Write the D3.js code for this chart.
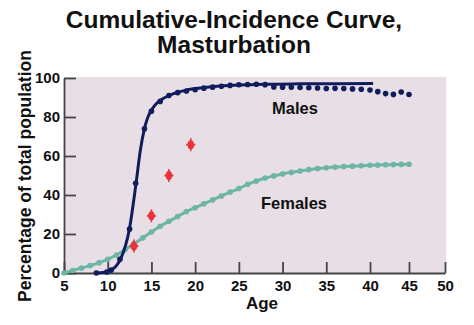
<!DOCTYPE html>
<html><head><meta charset="utf-8">
<script src="https://cdn.jsdelivr.net/npm/d3@7"></script>
<style>
body{margin:0;background:#fff}
svg{display:block}
text{font-family:'Liberation Sans',Arial,Helvetica,sans-serif;font-weight:bold;fill:#111}
</style>
</head><body><svg id="c" width="474" height="325"></svg>
<script>
const titleLines = ["Cumulative-Incidence Curve,", "Masturbation"];
const xLabel = "Age";
const yLabel = "Percentage of total population";
const xTicks = [5, 10, 15, 20, 25, 30, 35, 40, 45, 50];
const yTicks = [0, 20, 40, 60, 80, 100];

// Males: observed points
const maleDotAges = [8.7, 9.9, 10.4, 11.4, 12.5, 13.2, 14.2, 15, 16, 17, 18, 19, 20, 21, 22, 23, 24, 25, 26, 27, 28, 29, 30, 31, 32, 33, 34, 35, 36, 37, 38, 39, 40, 41, 42, 43, 44, 45];
const maleDotVals = [0, 0.5, 1.5, 7, 22.5, 46, 74, 83, 88, 91, 92.5, 93.3, 94, 94.8, 95.3, 95.8, 96.2, 96.5, 96.7, 96.8, 96.6, 95.4, 95.3, 95.2, 95.1, 95, 94.9, 94.6, 94.7, 94.6, 94.4, 94.2, 93.8, 93, 92, 91.6, 92.8, 91.5];
// Males: fitted curve
const maleCurveAges = [8.7, 9.5, 10, 10.5, 11, 11.5, 12, 12.5, 13, 13.3, 13.7, 14.2, 14.6, 15, 15.5, 16, 17, 18, 19, 20, 22, 25, 28, 32, 36, 40.4];
const maleCurveVals = [0, 0.3, 0.8, 1.8, 3.8, 7.5, 13.5, 23, 38, 48, 62, 74, 80, 83.5, 86.5, 88.5, 91, 92.7, 93.8, 94.6, 95.6, 96.4, 96.8, 97, 97.1, 97.2];

// Females
const femaleAges = [5, 6, 7, 8, 9, 10, 11, 12, 13, 14, 15, 16, 17, 18, 19, 20, 21, 22, 23, 24, 25, 26, 27, 28, 29, 30, 31, 32, 33, 34, 35, 36, 37, 38, 39, 40, 41, 42, 43, 44, 45];
const femaleVals = [0, 1.3, 2.5, 3.8, 5.2, 7, 9.2, 12, 15, 18, 21, 24, 26.5, 29, 31.5, 33.5, 35.5, 37.5, 39.5, 41.5, 43.3, 45.5, 47.2, 48.7, 49.8, 50.8, 51.6, 52.3, 53, 53.6, 54, 54.3, 54.6, 54.8, 55, 55.2, 55.4, 55.5, 55.6, 55.7, 55.8];

// Red markers
const redAges = [13, 15, 17, 19.5];
const redVals = [13.8, 29.3, 50, 65.8];

const seriesLabels = ["Males", "Females"];

const svg = d3.select("#c");
const x = d3.scaleLinear().domain([5, 40, 45, 50]).range([64, 370, 409, 445]);
const y = d3.scaleLinear().domain([0, 100]).range([273, 78]);

// plot background
svg.append("rect")
  .attr("x", x(5)).attr("y", y(100) - 1)
  .attr("width", x(50) - x(5) + 1).attr("height", y(0) - y(100) + 1)
  .attr("fill", "#e7dfe5");

// title
svg.append("text").attr("x", 234).attr("y", 28).attr("text-anchor", "middle")
  .style("font-size", "24.5px").text(titleLines[0]);
svg.append("text").attr("x", 234).attr("y", 53).attr("text-anchor", "middle")
  .style("font-size", "24.5px").text(titleLines[1]);

// axes
const axisColor = "#444";
const gy = svg.append("g").attr("transform", `translate(${x(5)},0)`)
  .call(d3.axisLeft(y).tickValues(yTicks).tickSize(-12).tickSizeOuter(0).tickPadding(4));
const gx = svg.append("g").attr("transform", `translate(0,${y(0)})`)
  .call(d3.axisBottom(x).tickValues(xTicks).tickSize(-11).tickSizeOuter(0).tickPadding(7));
[gx, gy].forEach(g => {
  g.select(".domain").attr("stroke", axisColor).attr("stroke-width", 1.8);
  g.selectAll(".tick line").attr("stroke", axisColor).attr("stroke-width", 1.8);
  g.selectAll(".tick text").attr("fill", "#111")
    .style("font-size", "15px").style("font-weight", "bold")
    .style("font-family", "'Liberation Sans',Arial,Helvetica,sans-serif");
});

// axis titles
svg.append("text").attr("x", 262).attr("y", 309).attr("text-anchor", "middle")
  .style("font-size", "17px").text(xLabel);
svg.append("text").attr("transform", `translate(31,176) rotate(-90)`)
  .attr("text-anchor", "middle").style("font-size", "17.5px").text(yLabel);

const line = d3.line().curve(d3.curveMonotoneX);

// Females
const femColor = "#6db5a4";
svg.append("path")
  .attr("d", line(femaleAges.map((a, i) => [x(a), y(femaleVals[i])])))
  .attr("fill", "none").attr("stroke", femColor).attr("stroke-width", 3);
svg.append("g").selectAll("circle").data(femaleAges).join("circle")
  .attr("cx", d => x(d)).attr("cy", (d, i) => y(femaleVals[i])).attr("r", 2.8)
  .attr("fill", femColor);

// Males
const maleColor = "#101c5c";
svg.append("path")
  .attr("d", line(maleCurveAges.map((a, i) => [x(a), y(maleCurveVals[i])])))
  .attr("fill", "none").attr("stroke", maleColor).attr("stroke-width", 3);
svg.append("g").selectAll("circle").data(maleDotAges).join("circle")
  .attr("cx", d => x(d)).attr("cy", (d, i) => y(maleDotVals[i])).attr("r", 2.8)
  .attr("fill", maleColor);

// Red markers
const redColor = "#e8343c";
const rg = svg.append("g").selectAll("g").data(redAges).join("g")
  .attr("transform", (d, i) => `translate(${x(d)},${y(redVals[i])})`);
rg.append("ellipse").attr("rx", 3.2).attr("ry", 4.5).attr("fill", redColor);
rg.append("line").attr("x1", -4.5).attr("x2", 4.5).attr("y1", 0).attr("y2", 0)
  .attr("stroke", redColor).attr("stroke-width", 2);
rg.append("line").attr("x1", 0).attr("x2", 0).attr("y1", -6.5).attr("y2", 6.5)
  .attr("stroke", redColor).attr("stroke-width", 1.6);

// series labels
svg.append("text").attr("x", 295).attr("y", 114).attr("text-anchor", "middle")
  .style("font-size", "16.5px").text(seriesLabels[0]);
svg.append("text").attr("x", 294).attr("y", 209).attr("text-anchor", "middle")
  .style("font-size", "16.5px").text(seriesLabels[1]);
</script>
</body></html>
